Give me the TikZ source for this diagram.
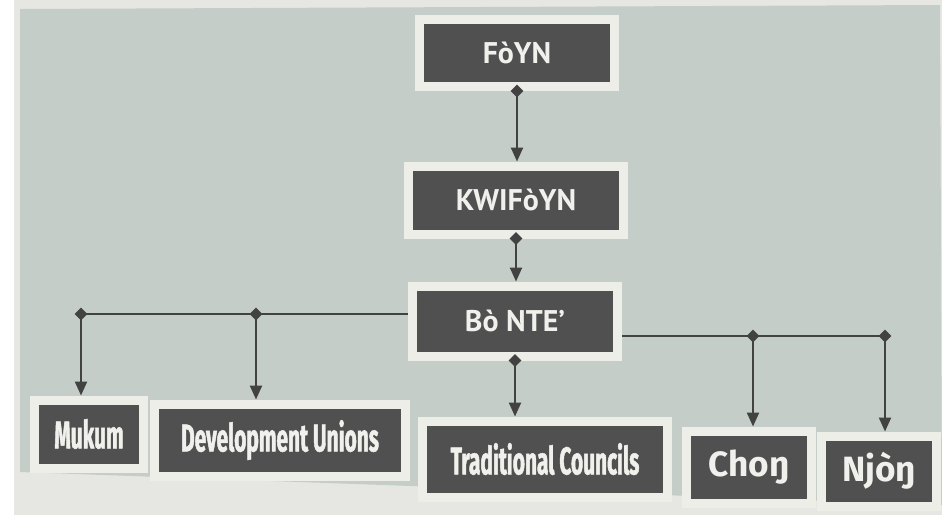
\documentclass[tikz,border=0pt]{standalone}
\usepackage{fontspec}
\setmainfont{PT Sans}
\newfontfamily\condfont[FakeStretch=0.54,FakeBold=1.2]{Fira Sans}
\newfontfamily\namefont{Fira Sans}
\usetikzlibrary{arrows.meta,shapes.geometric,positioning,calc}
\definecolor{PaperTone}{RGB}{196,205,199}
\definecolor{PaperEdge}{RGB}{230,231,226}
\definecolor{BoxDark}{RGB}{80,80,80}
\definecolor{BoxFrame}{RGB}{238,238,232}
\definecolor{LineGray}{RGB}{66,66,66}
\definecolor{TextLight}{RGB}{240,240,236}

\begin{document}
\begin{tikzpicture}[x=0.02cm,y=-0.02cm,
    rankbox/.style={fill=BoxDark,draw=BoxFrame,line width=0.18cm,text=TextLight,inner sep=0pt},
    topbox/.style={rankbox,font=\bfseries\fontsize{17}{19}\selectfont},
    lowbox/.style={rankbox,font=\condfont\bfseries\fontsize{22}{24}\selectfont},
    namebox/.style={rankbox,font=\namefont\bfseries\fontsize{20}{22}\selectfont},
    knot/.style={diamond,fill=LineGray,inner sep=0pt,minimum size=0.26cm},
    link/.style={LineGray,line width=0.045cm},
    arr/.style={link,-{Triangle[length=0.28cm,width=0.24cm]}}
  ]
    \useasboundingbox (0,0) rectangle (942,515);
    \fill[white] (0,0) rectangle (942,515);
    \fill[PaperEdge] (14,0) rectangle (942,515);
    \fill[PaperTone] (20,9) -- (940,5) -- (942,505) -- (20,472) -- cycle;

    \node[topbox,minimum width=3.92cm,minimum height=1.34cm] (foyn) at (517,53) {FòYN};
    \node[topbox,minimum width=4.32cm,minimum height=1.36cm] (kwif) at (516,200) {KWIFòYN};
    \node[topbox,minimum width=4.10cm,minimum height=1.40cm] (bonte) at (515,321) {Bò NTE’};

    \node[lowbox,minimum width=2.20cm,minimum height=1.36cm] (mukum) at (89,434) {Mukum};
    \node[lowbox,minimum width=5.04cm,minimum height=1.44cm] (devu) at (280,440) {Development Unions};
    \node[lowbox,minimum width=4.92cm,minimum height=1.52cm] (trad) at (545,459) {Traditional Councils};
    \node[namebox,minimum width=2.50cm,minimum height=1.44cm] (chon) at (749,467) {Choŋ};
    \node[namebox,minimum width=2.30cm,minimum height=1.40cm] (njon) at (879,471) {Njòŋ};

    \draw[arr] (foyn.south) -- (foyn.south |- kwif.north);
    \draw[arr] (kwif.south) -- (kwif.south |- bonte.north);
    \draw[arr] (bonte.south) -- (bonte.south |- trad.north);

    \coordinate (lk1) at (256,314);
    \coordinate (lk2) at (81,314);
    \coordinate (rk1) at (753,336);
    \coordinate (rk2) at (885,336);
    \draw[link] (bonte.west |- lk1) -- (lk2);
    \draw[link] (bonte.east |- rk1) -- (rk2);
    \draw[arr] (lk1) -- (lk1 |- devu.north);
    \draw[arr] (lk2) -- (lk2 |- mukum.north);
    \draw[arr] (rk1) -- (rk1 |- chon.north);
    \draw[arr] (rk2) -- (rk2 |- njon.north);
    \foreach \k in {lk1,lk2,rk1,rk2,foyn.south,kwif.south,bonte.south}
      \node[knot] at (\k) {};
  \end{tikzpicture}
\end{document}
